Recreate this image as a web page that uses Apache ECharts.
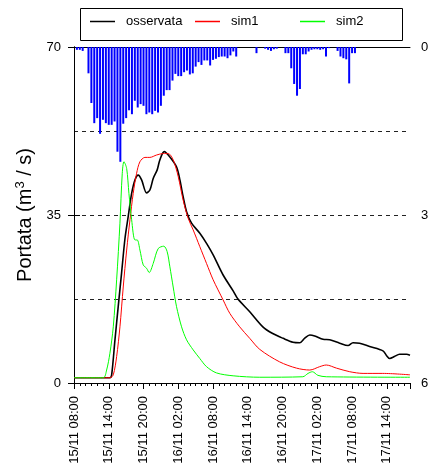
<!DOCTYPE html>
<html>
<head>
<meta charset="utf-8">
<script src="https://cdn.jsdelivr.net/npm/echarts@6/dist/echarts.min.js"></script>
<style>
html, body { margin: 0; padding: 0; background: #fff; }
#box { width: 432px; height: 470px; }
</style>
</head>
<body>
<div id="box"></div>
<script>
// tempo in ore a partire da 15/11 08:00
const tickLabels = ['15/11 08:00', '15/11 14:00', '15/11 20:00', '16/11 02:00', '16/11 08:00',
  '16/11 14:00', '16/11 20:00', '17/11 02:00', '17/11 08:00', '17/11 14:00'];

const obsT = [0, 6.2, 6.5, 7.07, 7.64, 8.22, 8.79, 9.36, 9.95, 10.52, 11.09, 11.67, 12.53, 13.1, 13.67,
  14.36, 14.83, 15.57, 16.55, 17.71, 18.28, 18.84, 19.43, 20.29, 21.72, 22.88, 24.02, 25.74, 27.47,
  28.3, 30.3, 32.6, 34.3, 36.1, 37.8, 38.97, 39.8, 40.7, 41.55, 42.99, 44.14, 45.86, 47.3, 48.16,
  49.3, 51.03, 53.33, 53.9, 54.5, 55.3, 56.2, 57.4, 58];
const obsQ = [1.1, 1.1, 1.7, 9, 16, 23, 30, 34.7, 39.5, 42.3, 43.3, 42.3, 39.6, 40.2, 42.6,
  44.4, 46.5, 48.2, 47.1, 45, 42.3, 38.8, 35.7, 33.3, 31.2, 29.1, 26.7, 22.5, 19.2,
  17.5, 14.9, 11.7, 10.3, 9.3, 8.5, 8.4, 9.3, 10, 9.8, 9.1, 9, 8.3, 7.8, 8.4,
  8.3, 7.6, 6.7, 5.8, 5.1, 5.5, 6, 6, 5.8];

const sim1T = [0, 6.2, 6.78, 7.36, 7.93, 8.5, 9.09, 9.66, 10.22, 10.81, 11.38, 12.24, 13.1, 14.26,
  15.4, 16.26, 17.12, 17.99, 18.84, 19.71, 20.57, 21.72, 22.88, 24.02, 25.74, 26.9, 28.6, 30.34,
  32.07, 35.5, 38.4, 40.7, 42.4, 43.55, 45.3, 47.6, 49.9, 53.3, 58];
const sim1Q = [1.1, 1.1, 1.7, 5.5, 11.7, 20, 27.7, 34, 39.5, 43.7, 46.1, 47, 47, 47.5,
  47.8, 47.8, 46.5, 43, 38.1, 34.3, 31.9, 28.4, 24.9, 21.5, 17.3, 14.5, 11.7, 9.3,
  7, 4.4, 3.1, 2.7, 3.4, 3.75, 3.1, 2.35, 2, 2, 1.7];

const sim2T = [0, 5.05, 5.63, 6.2, 6.78, 7.36, 7.93, 8.33, 8.62, 9.09, 9.48, 9.95, 10.52, 10.91,
  11.38, 11.95, 12.53, 12.98, 13.67, 14.53, 15.5, 16.07, 16.55, 17.12, 17.7, 18.57, 19.43, 20.57,
  21.72, 22.88, 24.6, 27.47, 32.07, 39.5, 40.4, 41.15, 42.1, 43.55, 58];
const sim2Q = [1.1, 1.1, 2.7, 6.2, 11.7, 21.5, 33.3, 43.7, 46.1, 44.7, 39.5, 34, 29.8, 29.8,
  27.7, 24.6, 23.9, 23, 24.9, 28, 28.5, 27.4, 24.2, 20, 15.9, 11.7, 9, 6.9,
  5.1, 3.4, 2.1, 1.5, 1.2, 1.3, 2, 2.35, 1.6, 1.3, 1.2];

// pioggia ogni 30 minuti, a partire dalle 08:30
const rain = [0.05, 0.05, 0.07, 0, 0.47, 1.0, 1.36, 1.27, 1.55, 1.30, 1.36, 1.39, 1.39, 1.33, 1.87,
  2.05, 1.37, 1.27, 1.13, 1.2, 0.96, 1.08, 1.02, 1.05, 1.2, 1.17, 1.2, 1.14, 1.17, 1.05,
  0.87, 0.77, 0.77, 0.6, 0.48, 0.52, 0.52, 0.45, 0.42, 0.49, 0.47, 0.35, 0.27, 0.32, 0.24,
  0.24, 0.33, 0.23, 0.21, 0.18, 0.17, 0.17, 0.2, 0.15, 0.08, 0.17, 0, 0, 0, 0,
  0, 0, 0.11, 0, 0, 0.03, 0.05, 0.07, 0.04, 0.03, 0, 0, 0.11, 0.11, 0.38,
  0.66, 0.87, 0.75, 0.13, 0.13, 0.08, 0.05, 0.04, 0.04, 0.05, 0.04, 0.17, 0.02, 0, 0,
  0.07, 0.17, 0.2, 0.22, 0.65, 0.11, 0.11];

const seriesNames = ['osservata', 'sim1', 'sim2'];

const pairs = (t, q) => t.map((v, i) => [v, q[i]]);
const rainData = rain.map((v, i) => [0.5 * (i + 1), v]);

var chartDom = document.getElementById('box');
var myChart = echarts.init(chartDom);
var font = 'Liberation Sans, Arial, sans-serif';
var lineIcon = 'path://M0,0 L25,0 L25,1.5 L0,1.5 Z';
var legendX = [90, 195, 300];

var option = {
  animation: false,
  textStyle: { fontFamily: font, color: '#000' },
  // riquadro della legenda
  graphic: [{
    type: 'rect', left: 78, top: 6, z: 10,
    shape: { width: 322, height: 32 },
    style: { fill: 'none', stroke: '#000', lineWidth: 1 }
  }],
  legend: seriesNames.map((n, i) => ({
    data: [{ name: n, icon: lineIcon }],
    left: legendX[i], top: 15, padding: 0,
    itemWidth: 25, itemHeight: 16,
    textStyle: { fontSize: 13, color: '#000', padding: [0, 0, 0, 6] }
  })),
  grid: { left: 74, right: 22, top: 47, bottom: 87 },
  xAxis: [{
    type: 'value', min: 0, max: 58, interval: 6,
    axisLine: { lineStyle: { color: '#000', width: 1 } },
    axisTick: { length: 6, lineStyle: { color: '#000' } },
    minorTick: { show: true, splitNumber: 6, length: 3, lineStyle: { color: '#000' } },
    axisLabel: {
      rotate: 90, margin: 13, fontSize: 13, color: '#000',
      formatter: v => tickLabels[Math.round(v / 6)] || ''
    },
    splitLine: { show: false }
  }, {
    type: 'value', position: 'top', min: 0, max: 58,
    axisLine: { show: true, lineStyle: { color: '#000', width: 1 } },
    axisTick: { show: false }, axisLabel: { show: false }, splitLine: { show: false }
  }],
  yAxis: [{
    type: 'value', min: 0, max: 70, interval: 35,
    name: 'Portata (m{sup|3} / s)',
    nameLocation: 'middle', nameGap: 35, nameRotate: 90,
    nameTextStyle: { fontSize: 20, color: '#000', rich: { sup: { fontSize: 13, padding: [0, 0, 10, 0] } } },
    axisLine: { show: true, lineStyle: { color: '#000', width: 1 } },
    axisTick: { length: 6, lineStyle: { color: '#000' } },
    axisLabel: { fontSize: 13, margin: 13, color: '#000' },
    splitLine: { show: false }
  }, {
    type: 'value', min: 0, max: 6, interval: 3, inverse: true, position: 'right',
    axisLine: { show: true, lineStyle: { color: '#000', width: 1 } },
    axisTick: { length: 6, lineStyle: { color: '#000' } },
    axisLabel: { fontSize: 13, margin: 11, color: '#000' },
    splitLine: { show: false }
  }, {
    type: 'value', min: 0, max: 70, interval: 17.5, position: 'left',
    axisLine: { show: false }, axisTick: { show: false }, axisLabel: { show: false },
    splitLine: { show: true, showMinLine: false, showMaxLine: false,
      lineStyle: { type: [4, 4], color: '#222', width: 1 } }
  }],
  series: [{
    name: 'pioggia', type: 'bar', xAxisIndex: 0, yAxisIndex: 1,
    barWidth: 2, itemStyle: { color: '#0000ff' },
    data: rainData
  }, {
    name: 'osservata', type: 'line', symbol: 'none', smooth: 0.3,
    lineStyle: { color: '#000', width: 1.6 }, itemStyle: { color: '#000' },
    data: pairs(obsT, obsQ)
  }, {
    name: 'sim1', type: 'line', symbol: 'none', smooth: 0.3,
    lineStyle: { color: '#ff0000', width: 1 }, itemStyle: { color: '#ff0000' },
    data: pairs(sim1T, sim1Q)
  }, {
    name: 'sim2', type: 'line', symbol: 'none', smooth: 0.3,
    lineStyle: { color: '#00ff00', width: 1 }, itemStyle: { color: '#00ff00' },
    data: pairs(sim2T, sim2Q)
  }]
};
myChart.setOption(option);
</script>
</body>
</html>
